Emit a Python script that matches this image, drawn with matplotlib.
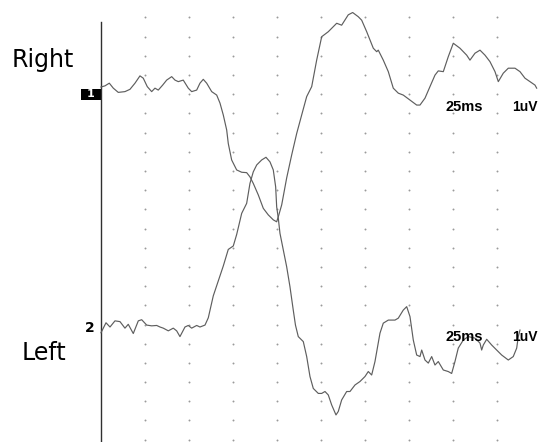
import numpy as np
import matplotlib
matplotlib.use("Agg")
import matplotlib.pyplot as plt
from matplotlib.patches import Rectangle

# ── trace data (ms, uV relative to channel baseline) ──
right_t = [0.0, 0.91, 1.89, 2.80, 3.93, 5.45, 6.59, 7.73, 8.86, 9.61, 10.52, 11.52,
           12.27, 13.02, 14.02, 14.93, 16.07, 16.82, 17.57, 18.70, 19.84, 20.61, 21.75,
           22.50, 23.25, 24.02, 25.16, 26.30, 27.05, 27.80, 28.57, 28.93, 29.70, 30.84,
           31.98, 33.11, 33.86, 34.61, 35.75, 36.89, 38.02, 39.16, 39.93, 40.30, 41.07,
           42.20, 43.34, 44.48, 45.61, 46.75, 47.89, 49.02, 50.16, 51.66, 53.57, 54.70,
           56.20, 57.20, 58.48, 59.25, 60.39, 61.89, 62.66, 63.02, 64.16, 65.30, 66.43,
           67.57, 68.70, 70.23, 71.75, 72.50, 73.64, 74.77, 75.91, 76.66, 77.80, 78.93,
           80.07, 81.59, 83.11, 83.86, 85.00, 86.14, 87.27, 88.41, 89.55, 90.30, 91.43,
           92.57, 94.09, 95.23, 96.36, 97.50, 98.64, 99.02]
right_uv = [0.00, 0.03, 0.10, -0.03, -0.14, -0.12, -0.06, 0.10, 0.29, 0.23, 0.01, -0.12,
            -0.03, -0.08, 0.05, 0.18, 0.27, 0.18, 0.14, 0.18, -0.03, -0.12, -0.08,
            0.10, 0.20, 0.10, -0.12, -0.21, -0.42, -0.73, -1.12, -1.47, -1.90, -2.16,
            -2.22, -2.23, -2.34, -2.51, -2.81, -3.16, -3.33, -3.46, -3.51, -3.38, -3.07,
            -2.37, -1.77, -1.21, -0.73, -0.25, 0.01, 0.70, 1.31, 1.44, 1.66, 1.61,
            1.88, 1.94, 1.83, 1.74, 1.44, 1.01, 0.92, 0.96, 0.70, 0.40, -0.03,
            -0.16, -0.21, -0.34, -0.47, -0.47, -0.29, 0.01, 0.31, 0.42, 0.40, 0.79,
            1.14, 1.01, 0.83, 0.70, 0.88, 0.96, 0.83, 0.66, 0.40, 0.14, 0.36,
            0.49, 0.49, 0.40, 0.23, 0.14, 0.05, -0.03]

left_t = [0.00, 1.14, 2.05, 3.18, 4.32, 5.45, 6.20, 7.34, 8.48, 9.25, 10.39, 11.52,
          12.66, 13.41, 14.16, 15.30, 16.43, 17.20, 17.95, 19.09, 19.84, 20.61, 21.75,
          22.50, 23.64, 24.39, 25.52, 26.66, 27.80, 28.93, 30.07, 30.84, 31.98, 33.11,
          33.86, 34.61, 35.39, 36.52, 37.50, 38.41, 39.16, 39.70, 39.93, 40.30, 40.68,
          41.43, 42.20, 42.95, 43.70, 44.20, 44.84, 45.98, 46.75, 47.50, 48.25, 49.39,
          50.16, 50.91, 51.66, 52.43, 53.41, 53.93, 54.70, 55.84, 56.59, 57.73, 58.86,
          60.00, 60.75, 61.52, 62.27, 63.41, 64.16, 65.30, 66.82, 67.57, 68.70, 69.48,
          70.23, 70.98, 71.75, 72.50, 72.89, 73.64, 74.39, 75.16, 75.91, 76.66, 77.80,
          78.93, 79.70, 80.45, 81.20, 82.34, 83.48, 85.00, 86.14, 86.52, 86.89, 87.66,
          88.80, 89.93, 91.07, 92.57, 93.70, 94.48, 94.84, 95.23]
left_uv = [-0.02, 0.24, 0.13, 0.29, 0.27, 0.10, 0.20, -0.04, 0.29, 0.32, 0.18, 0.16,
           0.17, 0.13, 0.10, 0.03, 0.10, 0.03, -0.12, 0.13, 0.17, 0.10, 0.17,
           0.13, 0.18, 0.37, 0.94, 1.33, 1.72, 2.15, 2.24, 2.54, 3.09, 3.35,
           3.87, 4.17, 4.35, 4.48, 4.55, 4.43, 4.22, 3.78, 3.26, 2.96, 2.57,
           2.14, 1.70, 1.18, 0.57, 0.18, -0.12, -0.25, -0.64, -1.16, -1.47, -1.60,
           -1.60, -1.55, -1.64, -1.90, -2.16, -2.07, -1.77, -1.55, -1.55, -1.38, -1.29,
           -1.16, -1.03, -1.12, -0.77, -0.03, 0.23, 0.31, 0.31, 0.36, 0.57, 0.66,
           0.40, -0.21, -0.60, -0.64, -0.47, -0.73, -0.81, -0.64, -0.86, -0.77, -0.99,
           -1.03, -1.08, -0.77, -0.42, -0.21, -0.12, -0.16, -0.29, -0.47, -0.34, -0.19,
           -0.34, -0.47, -0.60, -0.73, -0.64, -0.42, -0.12, 0.05]

channel_names = ["Right", "Left"]
channel_numbers = ["1", "2"]
time_cal = "25ms"
amp_cal = "1uV"

# layout: baseline offsets for each channel (uV)
offsets = [0.0, -6.38]
trace_col = "#5e5e5e"

fig = plt.figure(figsize=(5.39, 4.42), dpi=100)
ax = fig.add_axes([0, 0, 1, 1])
ax.set_xlim(-22.95, 99.55)
ax.set_ylim(-9.245, 2.266)
ax.axis("off")

# dotted grid: every 10 ms, every 0.5 uV
gx, gy = np.meshgrid(np.arange(10, 91, 10), 1.815 - 0.5 * np.arange(23))
ax.plot(gx.ravel(), gy.ravel(), ls="none", marker="o", ms=1.4,
        mec="none", mfc="#9a9a9a")

# time zero line
ax.plot([0, 0], [1.69, -9.3], color="#303030", lw=1.0)

# traces
ax.plot(right_t, np.array(right_uv) + offsets[0], color=trace_col, lw=0.85)
ax.plot(left_t, np.array(left_uv) + offsets[1], color=trace_col, lw=0.85)

# channel labels
ax.text(-20.2, 0.52, channel_names[0], fontsize=17, family="DejaVu Sans",
        ha="left", va="baseline")
ax.text(-17.95, -7.12, channel_names[1], fontsize=17, family="DejaVu Sans",
        ha="left", va="baseline")

ax.add_patch(Rectangle((-4.55, -0.339), 4.55, 0.287, color="black", lw=0))
ax.text(-2.3, -0.195, channel_numbers[0], color="white", fontsize=8,
        fontweight="bold", ha="center", va="center")
ax.text(-2.5, -6.38, channel_numbers[1], color="black", fontsize=10,
        fontweight="bold", ha="center", va="baseline")

# calibration labels
for base in [-0.625, -6.615]:
    ax.text(78.2, base, time_cal, fontsize=10.5, family="Liberation Sans",
            fontweight="bold", ha="left", va="baseline")
    ax.text(93.4, base, amp_cal, fontsize=10, family="Liberation Sans",
            fontweight="bold", ha="left", va="baseline")

fig.savefig("out.png", dpi=100, facecolor="white")
